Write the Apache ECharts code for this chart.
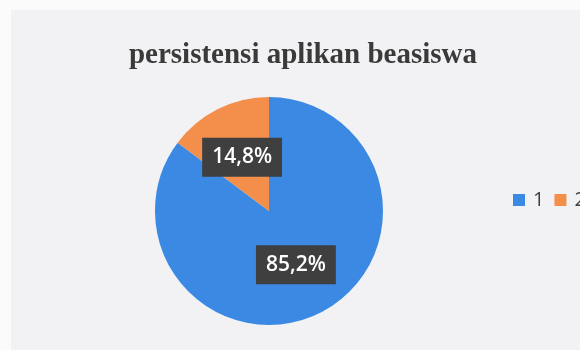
<!DOCTYPE html>
<html>
<head>
<meta charset="utf-8">
<script src="https://cdn.jsdelivr.net/npm/echarts@6/dist/echarts.min.js"></script>
<style>
  html, body { margin: 0; padding: 0; background: #fbfbfc; }
  #chart { position: absolute; left: 11px; top: 10px; width: 569px; height: 340px; background: #f2f2f5; }
</style>
</head>
<body>
<div id="chart"></div>
<script>
// Share of scholarship applicants by persistence group
const categories = ['1', '2'];
const shares = [85.2, 14.8];
const sliceColors = ['#3b89e3', '#f38f4b'];

const chart = echarts.init(document.getElementById('chart'));
chart.setOption({
  backgroundColor: 'transparent',
  animation: false,
  title: {
    text: 'persistensi aplikan beasiswa',
    left: 287, top: 26, textAlign: 'center',
    textStyle: { fontFamily: 'Liberation Serif', fontWeight: 'bold', fontSize: 29, color: '#3a3a3a' }
  },
  legend: {
    data: categories,
    orient: 'horizontal',
    left: 502, top: 180, width: 200, padding: 0,
    itemWidth: 12, itemHeight: 12, itemGap: 10,
    icon: 'rect',
    textStyle: { fontFamily: 'Open Sans', fontSize: 20, color: '#404040', lineHeight: 16, padding: [0, 0, 0, 3] }
  },
  series: [{
    type: 'pie',
    center: [258, 201],
    radius: 114,
    startAngle: 90,
    clockwise: true,
    data: categories.map((c, i) => ({ name: c, value: shares[i], itemStyle: { color: sliceColors[i] } })),
    label: {
      position: 'inside',
      formatter: p => p.value.toFixed(1).replace('.', ',') + '%',
      fontFamily: 'Open Sans', fontSize: 21, fontWeight: 600, color: '#ffffff',
      backgroundColor: '#3f3f40', padding: [10, 10, 8, 10]
    },
    labelLine: { show: false },
    emphasis: { disabled: true }
  }]
});
</script>
</body>
</html>
